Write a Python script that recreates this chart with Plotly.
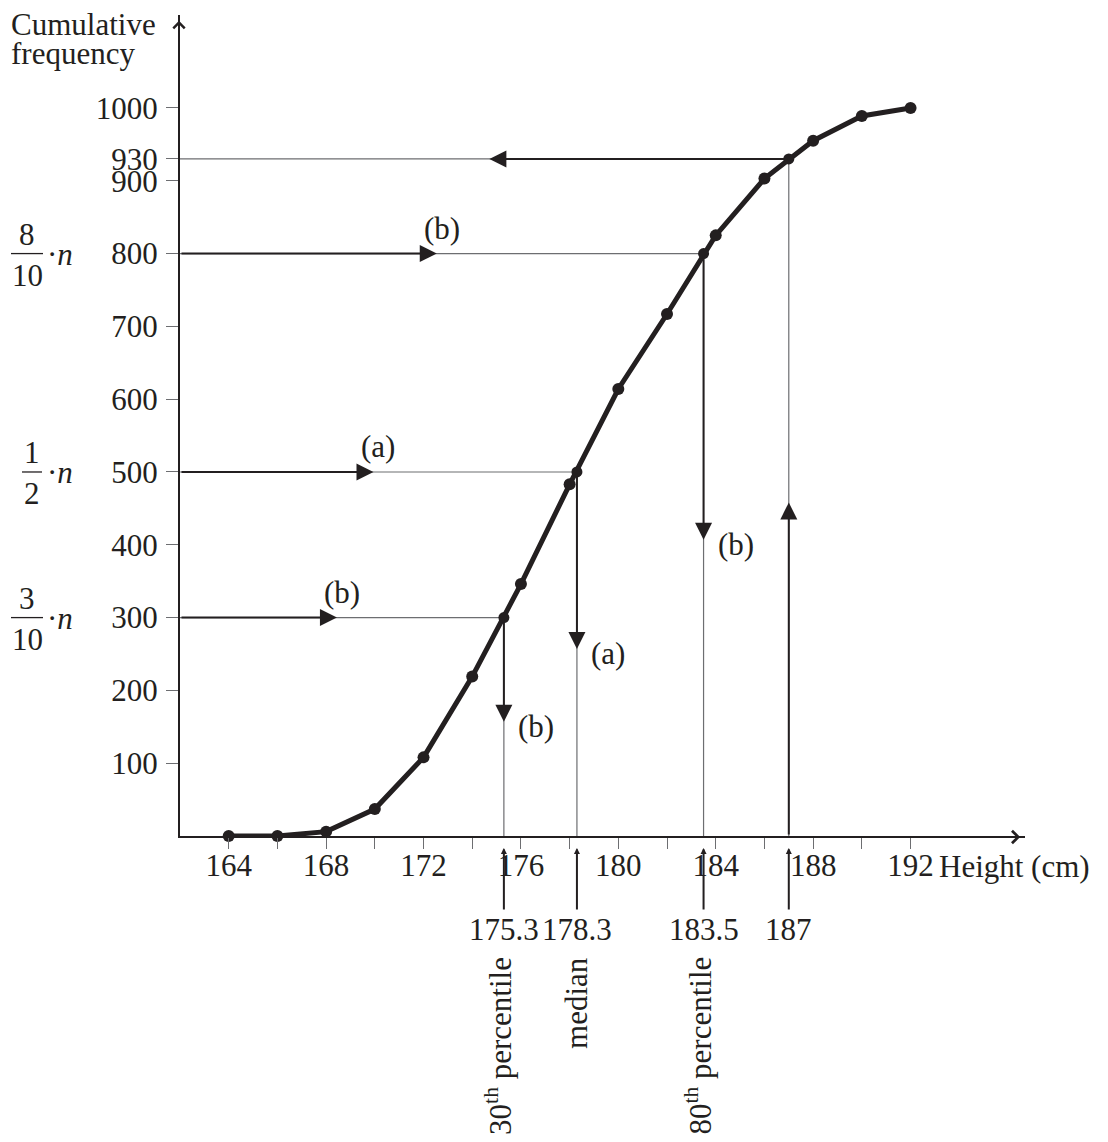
import plotly.graph_objects as go

# ---------------- data ----------------
heights = [164, 166, 168, 170, 172, 174, 176, 178, 180, 182, 184, 186, 188, 190, 192]
cum_freq = [0, 0, 6, 37, 108, 219, 346, 483, 614, 717, 825, 903, 955, 989, 1000]

x_ticks = [164, 166, 168, 170, 172, 174, 176, 178, 180, 182, 184, 186, 188, 190, 192]
x_tick_labels = ["164", "", "168", "", "172", "", "176", "", "180", "", "184", "", "188", "", "192"]
y_ticks = [100, 200, 300, 400, 500, 600, 700, 800, 900, 1000, 930]
y_tick_labels = ["100", "200", "300", "400", "500", "600", "700", "800", "900", "1000", "930"]

read_levels = [300, 500, 800]
read_heights = [175.3, 178.3, 183.5]
read_height_labels = ["175.3", "178.3", "183.5"]
read_names = ["30<sup>th</sup> percentile", "median", "80<sup>th</sup> percentile"]
tags_h = ["(b)", "(a)", "(b)"]
tags_v = ["(b)", "(a)", "(b)"]
frac_num = ["3", "1", "8"]
frac_den = ["10", "2", "10"]

inverse_height = 187
inverse_height_label = "187"
inverse_freq = 930

# ---------------- style ----------------
INK = "#231f20"
GREY = "#6d6e71"
FONT = "Liberation Serif"
FS = 31
X0, XMAX = 162, 196.7
YMAX = 1127.7
# page body has an 8px margin, so the figure is 8px smaller and offsets shifted
L, R, T, B = 172, 83, 7, 306
W, H = 1100, 1134
PW = W - L - R
AX = 180  # pixel x of y-axis in the reference page

fig = go.Figure()

# thin grey guide lines
for f, h in zip(read_levels, read_heights):
    fig.add_trace(go.Scatter(x=[X0, h, h], y=[f, f, 0], mode="lines",
                             line=dict(color=GREY, width=1.2), hoverinfo="skip"))
fig.add_trace(go.Scatter(x=[inverse_height, inverse_height, X0], y=[0, inverse_freq, inverse_freq],
                         mode="lines", line=dict(color=GREY, width=1.2), hoverinfo="skip"))

# ogive
fig.add_trace(go.Scatter(x=heights, y=cum_freq, mode="lines+markers",
                         line=dict(color=INK, width=5),
                         marker=dict(size=12, color=INK), cliponaxis=False, hoverinfo="skip"))
# reading dots
fig.add_trace(go.Scatter(x=read_heights + [inverse_height], y=read_levels + [inverse_freq],
                         mode="markers", marker=dict(size=11, color=INK), hoverinfo="skip"))


def arrow(x0, y0, x1, y1):
    fig.add_annotation(x=x1, y=y1, ax=x0, ay=y0, xref="x", yref="y", axref="x", ayref="y",
                       text="", showarrow=True, arrowhead=2, arrowsize=1.7, arrowwidth=2,
                       arrowcolor=INK, standoff=5)


def txt(x, y, s, xshift=0, yshift=0, xanchor="center", yanchor="middle", angle=0):
    fig.add_annotation(x=x, y=y, xref="x", yref="y", text=s, showarrow=False,
                       xshift=xshift, yshift=yshift, xanchor=xanchor, yanchor=yanchor,
                       textangle=angle, font=dict(family=FONT, size=FS, color=INK))


for f, h, lab, name, th, tv, num, den in zip(read_levels, read_heights, read_height_labels,
                                               read_names, tags_h, tags_v, frac_num, frac_den):
    mx = (X0 + h) / 2
    arrow(X0, f, mx, f)
    arrow(h, f, h, f / 2)
    txt(mx, f, th, yshift=25)
    txt(h, f / 2, tv, xshift=12, xanchor="left")
    # marker below axis
    fig.add_annotation(x=h, y=0, xref="x", yref="y", ax=0, ay=75, text="", showarrow=True,
                       arrowhead=2, arrowsize=0.6, arrowwidth=2, arrowcolor=INK, standoff=12)
    txt(h, 0, lab, yshift=-93)
    txt(h, 0, name, xshift=(-6 if "<sup>" in name else -1), yshift=-119, yanchor="top", angle=-90)
    # fraction label
    wide = len(den) > 1
    cx = 27 if wide else 32
    txt(X0, f, num, xshift=cx - AX, yshift=19)
    txt(X0, f, den, xshift=cx - AX, yshift=-22)
    txt(X0, f, "·<i>n</i>", xshift=45 - AX, yshift=-1, xanchor="left")
    bx0, bx1 = (11, 43) if wide else (22, 42)
    yp = f / YMAX
    fig.add_shape(type="line", xref="paper", yref="paper",
                  x0=(bx0 - AX) / PW, x1=(bx1 - AX) / PW, y0=yp, y1=yp,
                  line=dict(color=INK, width=1.3))

# inverse reading (187 -> 930)
arrow(inverse_height, 0, inverse_height, inverse_freq / 2)
arrow(inverse_height, inverse_freq, (X0 + inverse_height) / 2, inverse_freq)
fig.add_annotation(x=inverse_height, y=0, xref="x", yref="y", ax=0, ay=75, text="", showarrow=True,
                   arrowhead=2, arrowsize=0.6, arrowwidth=2, arrowcolor=INK, standoff=12)
txt(inverse_height, 0, inverse_height_label, yshift=-93)

# axis arrow tips
fig.add_annotation(x=XMAX - 0.2, y=0, ax=XMAX - 3, ay=0, xref="x", yref="y", axref="x", ayref="y",
                   text="", showarrow=True, arrowhead=4, arrowsize=1.2, arrowwidth=2,
                   arrowcolor=INK, yshift=-1)
fig.add_annotation(x=X0, y=YMAX - 8, ax=X0, ay=YMAX - 100, xref="x", yref="y", axref="x", ayref="y",
                   text="", showarrow=True, arrowhead=4, arrowsize=1.1, arrowwidth=2,
                   arrowcolor=INK, xshift=-1)

# axis titles
txt(X0, YMAX, "Cumulative", xshift=9 - AX, yshift=-9, xanchor="left")
txt(X0, YMAX, "frequency", xshift=9 - AX, yshift=-38, xanchor="left")
txt(heights[-1], 0, "Height (cm)", xshift=26, yshift=-30, xanchor="left")

fig.update_xaxes(range=[X0, XMAX], showgrid=False, zeroline=False, showline=True,
                 linecolor=INK, linewidth=2, ticks="outside", ticklen=11, tickwidth=1,
                 tickcolor=GREY, tickvals=x_ticks, ticktext=x_tick_labels,
                 tickfont=dict(family=FONT, size=FS, color=INK), ticklabelstandoff=-10)
fig.update_yaxes(range=[0, YMAX], showgrid=False, zeroline=False, showline=True,
                 linecolor=INK, linewidth=2, ticks="outside", ticklen=12, tickwidth=1,
                 tickcolor=GREY, tickvals=y_ticks, ticktext=y_tick_labels,
                 tickfont=dict(family=FONT, size=FS, color=INK), ticklabelstandoff=2)

fig.update_layout(width=W, height=H, margin=dict(l=L, r=R, t=T, b=B),
                  paper_bgcolor="white", plot_bgcolor="white", showlegend=False)

fig.write_html("out.html")
